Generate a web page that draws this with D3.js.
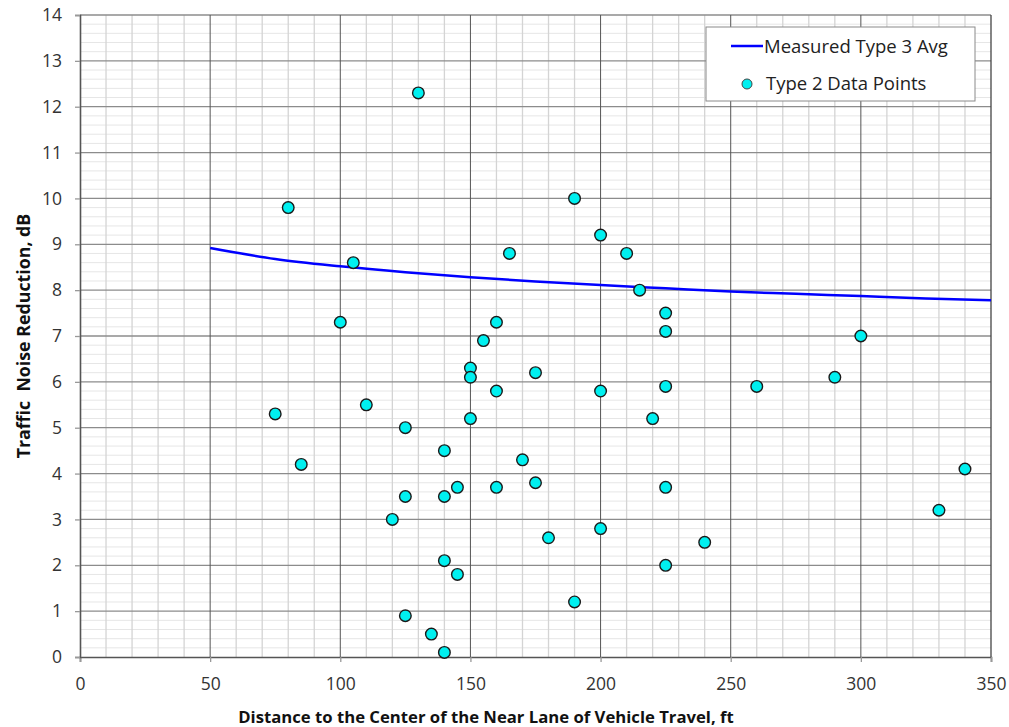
<!DOCTYPE html>
<html>
<head>
<meta charset="utf-8">
<script src="https://cdn.jsdelivr.net/npm/d3@7"></script>
<style>
  body { margin: 0; background: #fff; }
  text { font-family: "Open Sans", sans-serif; }
</style>
</head>
<body>
<div id="chart"></div>
<script>
// measured type 3 average curve
const avgDist = [50, 75, 100, 125, 150, 175, 200, 225, 250, 275, 300, 325, 350];
const avgVal = [8.92, 8.68, 8.52, 8.39, 8.28, 8.19, 8.11, 8.04, 7.97, 7.92, 7.87, 7.82, 7.78];

// type 2 data points
const ptDist = [75, 80, 85, 100, 105, 110, 120, 125, 125, 125, 130, 135, 140, 140, 140, 140,
  145, 145, 150, 150, 150, 155, 160, 160, 160, 165, 170, 175, 175, 180, 190, 190,
  200, 200, 200, 210, 215, 220, 225, 225, 225, 225, 225, 240, 260, 290, 300, 330, 340];
const ptVal = [5.3, 9.8, 4.2, 7.3, 8.6, 5.5, 3.0, 5.0, 3.5, 0.9, 12.3, 0.5, 4.5, 3.5, 2.1, 0.1,
  3.7, 1.8, 6.3, 6.1, 5.2, 6.9, 7.3, 5.8, 3.7, 8.8, 4.3, 6.2, 3.8, 2.6, 10.0, 1.2,
  9.2, 5.8, 2.8, 8.8, 8.0, 5.2, 7.5, 7.1, 5.9, 3.7, 2.0, 2.5, 5.9, 6.1, 7.0, 3.2, 4.1];

const xTicks = [0, 50, 100, 150, 200, 250, 300, 350];
const yTicks = [0, 1, 2, 3, 4, 5, 6, 7, 8, 9, 10, 11, 12, 13, 14];

const W = 1009, H = 727;
const margin = { top: 15, right: 18, bottom: 70, left: 80 };
const width = W - margin.left - margin.right;
const height = H - margin.top - margin.bottom;

const svg = d3.select("#chart").append("svg")
  .attr("width", W).attr("height", H);

const g = svg.append("g")
  .attr("transform", `translate(${margin.left},${margin.top})`);

const x = d3.scaleLinear().domain([0, 350]).range([0, width]);
const y = d3.scaleLinear().domain([0, 14]).range([height, 0]);

// minor grid
g.append("g").selectAll("line")
  .data(d3.range(0, 14.01, 0.2).filter(v => Math.abs(v - Math.round(v)) > 0.01))
  .join("line")
  .attr("x1", 0).attr("x2", width)
  .attr("y1", d => y(d)).attr("y2", d => y(d))
  .attr("stroke", "#e6e6e6").attr("stroke-width", 1);

g.append("g").selectAll("line")
  .data(d3.range(10, 350, 10).filter(v => v % 50 !== 0))
  .join("line")
  .attr("x1", d => x(d)).attr("x2", d => x(d))
  .attr("y1", 0).attr("y2", height)
  .attr("stroke", "#d4d4d4").attr("stroke-width", 1.3);

// major grid
g.append("g").selectAll("line")
  .data(yTicks.slice(1))
  .join("line")
  .attr("x1", 0).attr("x2", width)
  .attr("y1", d => y(d)).attr("y2", d => y(d))
  .attr("stroke", "#8c8c8c").attr("stroke-width", 1.3);

g.append("g").selectAll("line")
  .data(xTicks.slice(1, -1))
  .join("line")
  .attr("x1", d => x(d)).attr("x2", d => x(d))
  .attr("y1", 0).attr("y2", height)
  .attr("stroke", "#555").attr("stroke-width", 1);

// right border
g.append("line")
  .attr("x1", width).attr("x2", width)
  .attr("y1", 0).attr("y2", height)
  .attr("stroke", "#444").attr("stroke-width", 1.3);

// axes
const xAxis = g.append("g")
  .attr("transform", `translate(0,${height})`)
  .call(d3.axisBottom(x).tickValues(xTicks).tickSize(5).tickPadding(16));
const yAxis = g.append("g")
  .call(d3.axisLeft(y).tickValues(yTicks).tickSize(5).tickPadding(13));

[xAxis, yAxis].forEach(a => {
  a.select(".domain").attr("stroke", "#555").attr("stroke-width", 1.6);
  a.selectAll(".tick line").attr("stroke", "#999").attr("stroke-width", 1.3);
  a.selectAll("text").attr("fill", "#333").style("font-size", "17.5px");
});

// average curve
const line = d3.line()
  .x((d, i) => x(avgDist[i]))
  .y(d => y(d))
  .curve(d3.curveMonotoneX);

g.append("path")
  .datum(avgVal)
  .attr("fill", "none")
  .attr("stroke", "#0000ff")
  .attr("stroke-width", 2.5)
  .attr("d", line);

// points
g.append("g").selectAll("circle")
  .data(ptVal)
  .join("circle")
  .attr("cx", (d, i) => x(ptDist[i]))
  .attr("cy", d => y(d))
  .attr("r", 5.8)
  .attr("fill", "#00f0f0")
  .attr("stroke", "#1a1a1a")
  .attr("stroke-width", 1.4);

// legend
const lg = svg.append("g").attr("transform", "translate(706,27)");
lg.append("rect")
  .attr("width", 269).attr("height", 74)
  .attr("fill", "#fff").attr("stroke", "#8a8a8a").attr("stroke-width", 1);
lg.append("line")
  .attr("x1", 25).attr("x2", 57).attr("y1", 19).attr("y2", 19)
  .attr("stroke", "#0000ff").attr("stroke-width", 2.5);
lg.append("text")
  .attr("x", 58).attr("y", 26)
  .attr("fill", "#222").style("font-size", "18.5px")
  .text("Measured Type 3 Avg");
lg.append("circle")
  .attr("cx", 41).attr("cy", 57).attr("r", 5)
  .attr("fill", "#00f0f0").attr("stroke", "#444").attr("stroke-width", 1);
lg.append("text")
  .attr("x", 60).attr("y", 63)
  .attr("fill", "#222").style("font-size", "18.5px")
  .text("Type 2 Data Points");

// axis titles
svg.append("text")
  .attr("x", 486).attr("y", 723)
  .attr("text-anchor", "middle")
  .style("font-size", "16.7px").style("font-weight", "bold")
  .attr("fill", "#111")
  .text("Distance to the Center of the Near Lane of Vehicle Travel, ft");

svg.append("text")
  .attr("transform", "translate(30,336) rotate(-90)")
  .attr("text-anchor", "middle")
  .style("font-size", "17.8px").style("font-weight", "bold")
  .style("white-space", "pre")
  .attr("fill", "#111")
  .text("Traffic  Noise Reduction, dB");
</script>
</body>
</html>
